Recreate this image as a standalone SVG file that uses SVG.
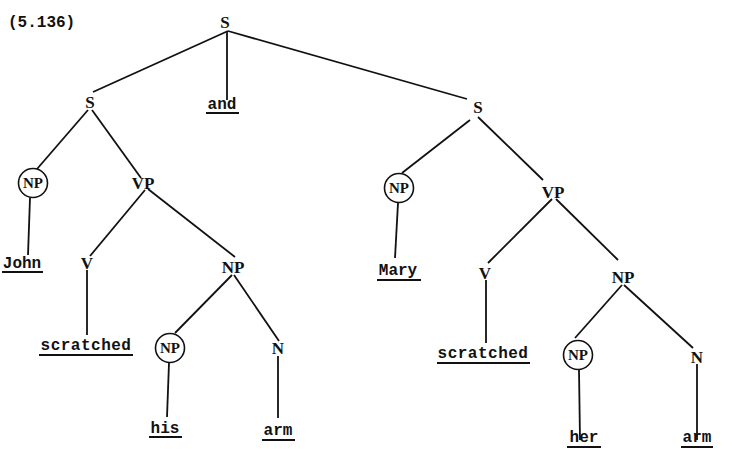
<svg xmlns="http://www.w3.org/2000/svg" width="742" height="449" viewBox="0 0 742 449">
<style>
.lbl{font-family:"Liberation Serif","DejaVu Serif",serif;font-weight:bold;font-size:17px;fill:#111;text-anchor:middle}
.cl{font-family:"Liberation Serif","DejaVu Serif",serif;font-weight:bold;font-size:15px;fill:#111;text-anchor:middle}
.w{font-family:"Liberation Mono","DejaVu Sans Mono",monospace;font-weight:bold;font-size:16px;fill:#111;text-anchor:middle}
.ul{stroke:#111;stroke-width:2}
.e{stroke:#111;stroke-width:1.8;fill:none}
.c{stroke:#111;stroke-width:1.6;fill:#fff}
</style>
<rect width="742" height="449" fill="#fff"/>
<text x="8" y="27" font-family="Liberation Mono, monospace" font-weight="bold" font-size="16" fill="#111">(5.136)</text>
<g id="connectors">
<line class="e" x1="228" y1="31" x2="93" y2="92"/>
<line class="e" x1="227" y1="31" x2="227" y2="100"/>
<line class="e" x1="228" y1="31" x2="467" y2="99"/>
<line class="e" x1="88" y1="110" x2="37" y2="169"/>
<line class="e" x1="92" y1="110" x2="141" y2="178"/>
<line class="e" x1="30" y1="198" x2="28" y2="255"/>
<line class="e" x1="145" y1="190" x2="90" y2="256"/>
<line class="e" x1="148" y1="189" x2="235" y2="257"/>
<line class="e" x1="87" y1="270" x2="87" y2="335"/>
<line class="e" x1="232" y1="275" x2="175" y2="333"/>
<line class="e" x1="234" y1="275" x2="279" y2="341"/>
<line class="e" x1="169" y1="363" x2="167" y2="417"/>
<line class="e" x1="278" y1="356" x2="278" y2="418"/>
<line class="e" x1="470" y1="120" x2="402" y2="173"/>
<line class="e" x1="478" y1="117" x2="543" y2="180"/>
<line class="e" x1="398" y1="203" x2="395" y2="258"/>
<line class="e" x1="552" y1="199" x2="488" y2="263"/>
<line class="e" x1="556" y1="199" x2="618" y2="260"/>
<line class="e" x1="486" y1="280" x2="486" y2="343"/>
<line class="e" x1="622" y1="285" x2="575" y2="338"/>
<line class="e" x1="624" y1="285" x2="693" y2="348"/>
<line class="e" x1="579" y1="370" x2="580" y2="440"/>
<line class="e" x1="697" y1="364" x2="697" y2="440"/>
</g>
<g id="S0"><text class="lbl" x="225" y="28">S</text></g>
<g id="S1"><text class="lbl" x="90" y="108">S</text></g>
<g id="and"><text class="w" x="222" y="109">and</text><line class="ul" x1="206" y1="113" x2="239" y2="113"/></g>
<g id="S2"><text class="lbl" x="478" y="113">S</text></g>
<g id="NP1"><circle class="c" cx="33" cy="183" r="14.5"/><text class="cl" x="33" y="188">NP</text></g>
<g id="VP1"><text class="lbl" x="143" y="189">VP</text></g>
<g id="John"><text class="w" x="22" y="268">John</text><line class="ul" x1="2" y1="272" x2="43" y2="272"/></g>
<g id="V1"><text class="lbl" x="87" y="269">V</text></g>
<g id="NP2"><text class="lbl" x="233" y="273">NP</text></g>
<g id="scratched1"><text class="w" x="86" y="350" letter-spacing="0.5">scratched</text><line class="ul" x1="39" y1="355" x2="133" y2="355"/></g>
<g id="NP3"><circle class="c" cx="170" cy="348" r="14.5"/><text class="cl" x="170" y="353">NP</text></g>
<g id="N1"><text class="lbl" x="278" y="354">N</text></g>
<g id="his"><text class="w" x="165" y="433">his</text><line class="ul" x1="149" y1="437" x2="182" y2="437"/></g>
<g id="arm1"><text class="w" x="278" y="435">arm</text><line class="ul" x1="262" y1="440" x2="295" y2="440"/></g>
<g id="NP4"><circle class="c" cx="399" cy="188" r="14.5"/><text class="cl" x="399" y="193">NP</text></g>
<g id="VP2"><text class="lbl" x="553" y="198">VP</text></g>
<g id="Mary"><text class="w" x="398" y="275">Mary</text><line class="ul" x1="377" y1="280" x2="421" y2="280"/></g>
<g id="V2"><text class="lbl" x="485" y="279">V</text></g>
<g id="NP5"><text class="lbl" x="623" y="283">NP</text></g>
<g id="scratched2"><text class="w" x="483" y="358" letter-spacing="0.5">scratched</text><line class="ul" x1="437" y1="363" x2="530" y2="363"/></g>
<g id="NP6"><circle class="c" cx="578" cy="355" r="14.5"/><text class="cl" x="578" y="360">NP</text></g>
<g id="N2"><text class="lbl" x="697" y="363">N</text></g>
<g id="her"><text class="w" x="584" y="442">her</text><line class="ul" x1="567" y1="447" x2="601" y2="447"/></g>
<g id="arm2"><text class="w" x="697" y="442">arm</text><line class="ul" x1="681" y1="447" x2="713" y2="447"/></g>
</svg>
